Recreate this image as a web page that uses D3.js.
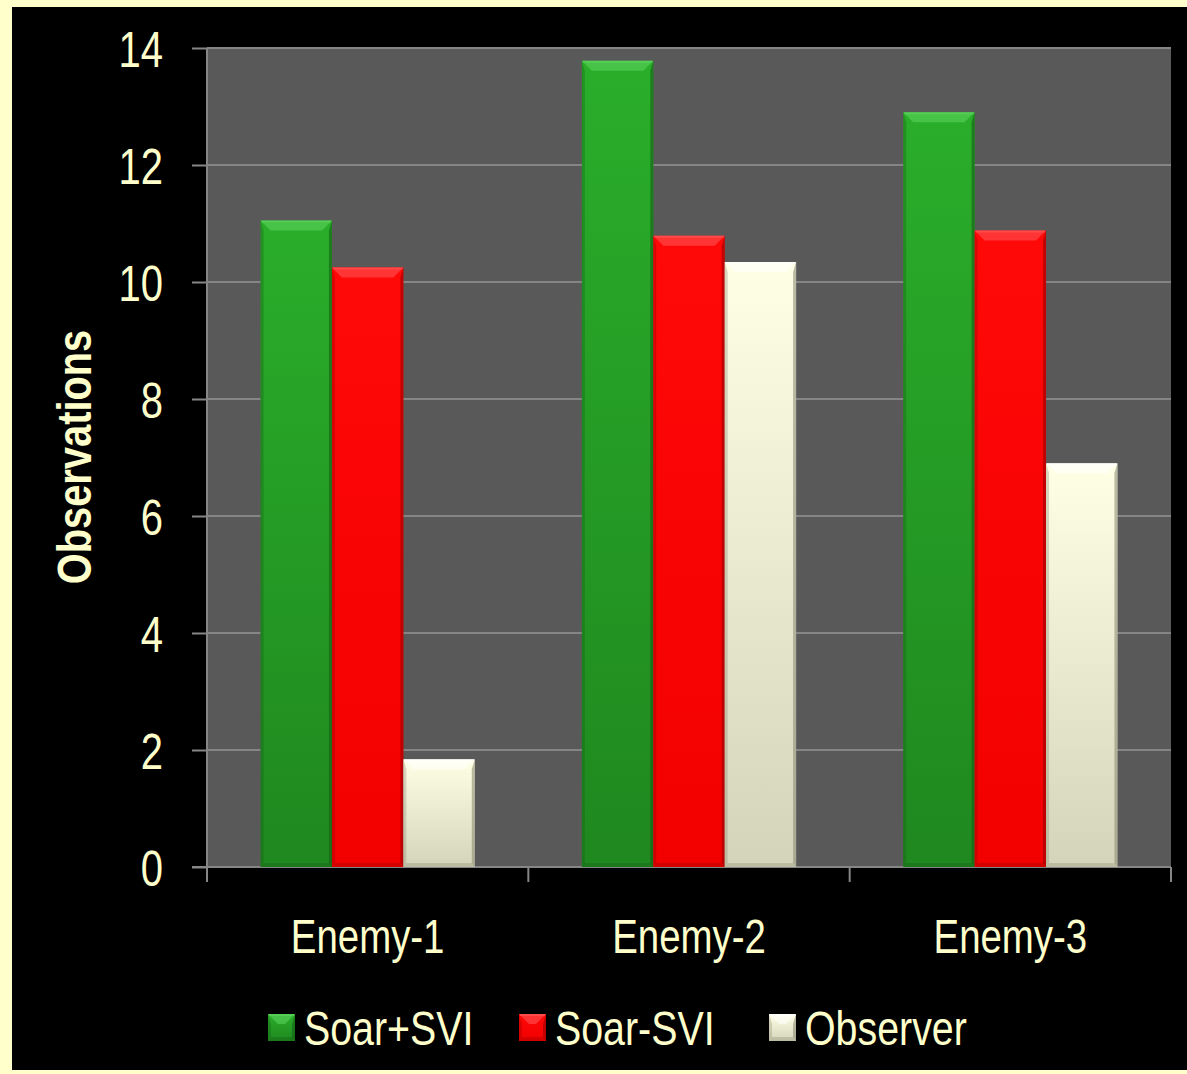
<!DOCTYPE html>
<html><head><meta charset="utf-8">
<script src="https://cdn.jsdelivr.net/npm/d3@7"></script>
<style>
html,body{margin:0;padding:0;background:#FFFFCC;}
svg{display:block;}
</style></head>
<body>
<svg id="chart" width="1187" height="1074"></svg>
<script>
const categories = ["Enemy-1", "Enemy-2", "Enemy-3"];
const seriesNames = ["Soar+SVI", "Soar-SVI", "Observer"];
const soarSVI = [11.05, 13.78, 12.9];
const soarNoSVI = [10.25, 10.79, 10.88];
const observer = [1.84, 10.34, 6.9];
const yTicks = [0, 2, 4, 6, 8, 10, 12, 14];
const yLabel = "Observations";

const seriesValues = [soarSVI, soarNoSVI, observer];
const palette = [
  {id:"g", top:"#2AAE2A", bot:"#1F881F", light:"#5FD65F", dark:"#145F14"},
  {id:"r", top:"#FF0808", bot:"#F20000", light:"#FF5A5A", dark:"#9A0000"},
  {id:"w", top:"#FFFFE6", bot:"#D4D4BA", light:"#FFFFFF", dark:"#8E8E78"}
];
const textColor = "#FFFFCC";
const FONT = "'Liberation Sans Narrow','Arial Narrow','Liberation Sans',Arial,sans-serif";
const SX = 0.8;

const svg = d3.select("#chart");
svg.append("rect").attr("x",0).attr("y",0).attr("width",1187).attr("height",1074).attr("fill","#FFFFCC");
svg.append("rect").attr("x",12).attr("y",7).attr("width",1175).attr("height",1063).attr("fill","#000");

const defs = svg.append("defs");
palette.forEach(p=>{
  const g = defs.append("linearGradient").attr("id","grad-"+p.id).attr("x1",0).attr("y1",0).attr("x2",0).attr("y2",1);
  g.append("stop").attr("offset","0%").attr("stop-color",p.top);
  g.append("stop").attr("offset","100%").attr("stop-color",p.bot);
});

const plot = {left:207, right:1171, top:48, bottom:867};
const y = d3.scaleLinear().domain([0,14]).range([plot.bottom, plot.top]);
const x0 = d3.scaleBand().domain(categories).range([plot.left, plot.right]).paddingInner(0).paddingOuter(0);
const x1 = d3.scaleBand().domain(seriesNames).range([0, x0.bandwidth()]).paddingInner(0).paddingOuter(0.75);

// plot area
svg.append("rect").attr("x",plot.left).attr("y",plot.top).attr("width",plot.right-plot.left).attr("height",plot.bottom-plot.top).attr("fill","#595959");

// gridlines
svg.append("g").selectAll("line").data(yTicks.filter(t=>t>0)).join("line")
  .attr("x1",plot.left).attr("x2",plot.right)
  .attr("y1",d=>y(d)).attr("y2",d=>y(d))
  .attr("stroke","#858585").attr("stroke-width",2);

// y axis
const yAxis = d3.axisLeft(y).tickValues(yTicks).tickSize(15).tickPadding(28).tickFormat(d3.format("d"));
const yg = svg.append("g").attr("transform",`translate(${plot.left},0)`).call(yAxis);
yg.select(".domain").attr("stroke","#868686").attr("stroke-width",2).attr("d",`M0,${plot.top}V${plot.bottom}`);
yg.selectAll(".tick line").attr("stroke","#868686").attr("stroke-width",2);
yg.selectAll(".tick text").attr("fill",textColor).attr("font-family",FONT).attr("font-size",50)
  .attr("dy","0.36em").attr("x",-44/SX).attr("transform",`scale(${SX},1)`);

// x axis
const xAxis = d3.axisBottom(x0).tickSize(0).tickPadding(0);
const xg = svg.append("g").attr("transform",`translate(0,${plot.bottom})`).call(xAxis);
xg.select(".domain").remove();
xg.append("line").attr("x1",plot.left-15).attr("x2",plot.right).attr("y1",0).attr("y2",0).attr("stroke","#868686").attr("stroke-width",2);
const xt = categories.map(c=>x0(c)).concat([plot.right]);
xg.selectAll(".xtick").data(xt).join("line").attr("class","xtick")
  .attr("x1",d=>d).attr("x2",d=>d).attr("y1",0).attr("y2",15).attr("stroke","#868686").attr("stroke-width",2);
xg.selectAll(".tick text").attr("fill",textColor).attr("font-family",FONT).attr("font-size",48)
  .attr("dy",0).attr("y",86).attr("transform",`scale(${SX},1)`);

// bevel bar drawer
function bevelBar(g, bx, by, bw, bh, p){
  const tb = Math.min(10, bh/2), sb = Math.min(3, bw/4), bb = Math.min(4, bh/4);
  g.append("rect").attr("x",bx).attr("y",by).attr("width",bw).attr("height",bh).attr("fill",`url(#grad-${p.id})`);
  g.append("polygon").attr("points",[[bx,by],[bx+bw,by],[bx+bw-tb,by+tb],[bx+tb,by+tb]].map(q=>q.join(",")).join(" "))
    .attr("fill",p.light).attr("opacity",0.55);
  g.append("polygon").attr("points",[[bx,by],[bx+sb,by+tb],[bx+sb,by+bh-bb],[bx,by+bh]].map(q=>q.join(",")).join(" "))
    .attr("fill",p.dark).attr("opacity",0.35);
  g.append("polygon").attr("points",[[bx+bw,by],[bx+bw-sb,by+tb],[bx+bw-sb,by+bh-bb],[bx+bw,by+bh]].map(q=>q.join(",")).join(" "))
    .attr("fill",p.dark).attr("opacity",0.6);
  g.append("polygon").attr("points",[[bx,by+bh],[bx+sb,by+bh-bb],[bx+bw-sb,by+bh-bb],[bx+bw,by+bh]].map(q=>q.join(",")).join(" "))
    .attr("fill",p.dark).attr("opacity",0.35);
  g.append("line").attr("x1",bx+1).attr("x2",bx+bw-1).attr("y1",by+1).attr("y2",by+1).attr("stroke",p.light).attr("stroke-width",2).attr("opacity",0.6);
}

const barsG = svg.append("g");
categories.forEach((c,ci)=>{
  seriesNames.forEach((s,si)=>{
    const v = seriesValues[si][ci];
    const bx = x0(c)+x1(s), bw = x1.bandwidth();
    const by = y(v), bh = y(0)-y(v);
    bevelBar(barsG.append("g"), bx, by, bw, bh, palette[si]);
  });
});

// y label
svg.append("text").attr("transform",`translate(91,457) rotate(-90) scale(0.83,1)`).attr("text-anchor","middle")
  .attr("fill",textColor).attr("font-family",FONT).attr("font-weight","bold").attr("font-size",48).text(yLabel);

// legend
const legendX = [268, 519, 769];
const lg = svg.append("g");
seriesNames.forEach((s,i)=>{
  const g = lg.append("g");
  bevelBar(g, legendX[i], 1014, 27, 27, palette[i]);
  g.append("text").attr("transform",`translate(${legendX[i]+36},1045) scale(0.82,1)`).attr("fill",textColor)
    .attr("font-family",FONT).attr("font-size",48).text(s);
});
</script>
</body></html>
